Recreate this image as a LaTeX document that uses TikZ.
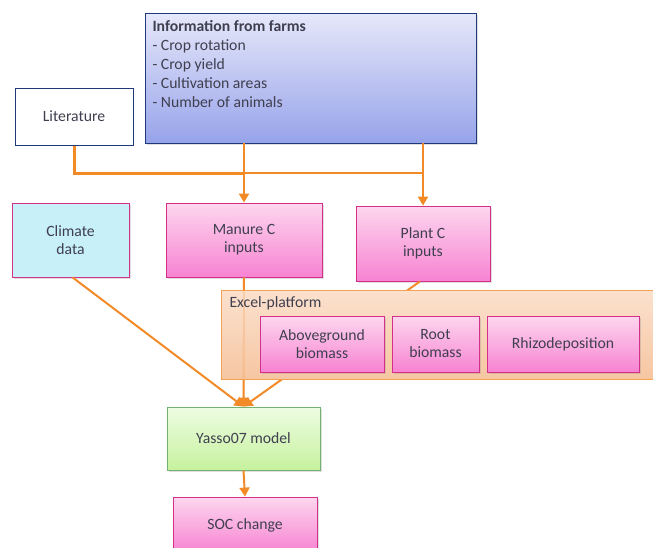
\documentclass[tikz,border=0pt]{standalone}
\usepackage{fontspec}
\setmainfont{Carlito}
\usepackage{xcolor}
\usetikzlibrary{arrows.meta,positioning,calc,shadows}

\definecolor{txt}{HTML}{3F3F4F}
\definecolor{flow}{HTML}{F28A28}
\definecolor{navy}{HTML}{1F3A7A}
\definecolor{pinkedge}{HTML}{D4308A}
\definecolor{pinktop}{HTML}{FDD6EE}
\definecolor{pinkbot}{HTML}{F783D2}
\definecolor{bluetop}{HTML}{E6E8FA}
\definecolor{bluebot}{HTML}{97A3EA}
\definecolor{peachtop}{HTML}{FBE1CE}
\definecolor{peachbot}{HTML}{F6C6A2}
\definecolor{skyfill}{HTML}{C8F0F8}
\definecolor{greentop}{HTML}{EEFCE2}
\definecolor{greenbot}{HTML}{C6F29E}

\tikzset{
    box/.style={draw=pinkedge, line width=0.8pt, text=txt, align=center,
        top color=pinktop, bottom color=pinkbot,
        drop shadow={opacity=0.25, shadow xshift=1.5pt, shadow yshift=-1.5pt}},
    flowline/.style={draw=flow, line width=2pt},
    flowarrow/.style={flowline, -{Triangle[length=9pt,width=10pt]}},
}

\begin{document}
\begin{tikzpicture}[x=1pt,y=-1pt,font=\fontsize{15.7}{18}\selectfont]
    \useasboundingbox (0,0) rectangle (653,547);

    % Sources
    \node[draw=navy, line width=0.8pt, top color=bluetop, bottom color=bluebot,
          minimum width=331pt, minimum height=130pt,
          drop shadow={opacity=0.25, shadow xshift=1.5pt, shadow yshift=-1.5pt}] (info) at (310.5,78) {};
    \node[anchor=north west, align=left, text=txt, font=\fontsize{15.7}{19}\selectfont] (infotext) at (149,17)
        {\textbf{Information from farms}\\- Crop rotation\\- Crop yield\\- Cultivation areas\\- Number of animals};
    \node[draw=navy, line width=1pt, fill=white, text=txt, minimum width=118pt, minimum height=57pt] (lit) at (74,116.5) {Literature};

    % Connectors from the sources
    \coordinate (jm) at (244,173);
    \coordinate (jp) at (423,173);
    \draw[flowline, line width=3pt] (lit.south) |- (jm);
    \draw[flowline] (jm) -- (jp);

    % Inputs
    \node[box, top color=skyfill, bottom color=skyfill, minimum width=117pt, minimum height=74pt] (climate) at (70.5,240) {Climate\\data};
    \node[box, minimum width=156pt, minimum height=74pt] (manure) at (244,240) {Manure C\\inputs};
    \node[box, minimum width=134pt, minimum height=75pt] (plant) at (423,243.5) {Plant C\\inputs};
    \draw[flowarrow] (manure.north |- info.south) -- (manure.north);
    \draw[flowarrow] (plant.north |- info.south) -- (plant.north);

    % Model and result
    \node[box, draw=green!45!black!55, top color=greentop, bottom color=greenbot, minimum width=153pt, minimum height=63pt] (yasso) at (243.5,438.5) {Yasso07 model};
    \node[box, minimum width=144pt, minimum height=56pt] (soc) at (245,525) {SOC change};

    \draw[flowarrow] ($(climate.south)+(2,0)$) -- (yasso.north);
    \draw[flowarrow] (manure.south) -- (yasso.north);
    \draw[flowarrow] ($(plant.south)+(-3,0)$) -- (yasso.north);
    \draw[flowarrow] (yasso.south) -- (soc.north);

    % Excel-platform
    \shade[top color=peachtop, bottom color=peachbot] (221,290) rectangle (653,379);
    \draw[flowline, draw opacity=0.2] (manure.south) -- (yasso.north);
    \draw[draw=flow!80, line width=0.8pt] (221,290) rectangle (653,379);
    \node[anchor=north west, text=txt] (excel) at (226,293) {Excel-platform};
    \node[box, minimum width=124pt, minimum height=56pt] (above) at (322,344) {Aboveground\\biomass};
    \node[box, minimum width=87pt, minimum height=56pt] (root) at (435.5,344) {Root\\biomass};
    \node[box, minimum width=152pt, minimum height=56pt] (rhizo) at (563,344) {Rhizodeposition};
\end{tikzpicture}
\end{document}
